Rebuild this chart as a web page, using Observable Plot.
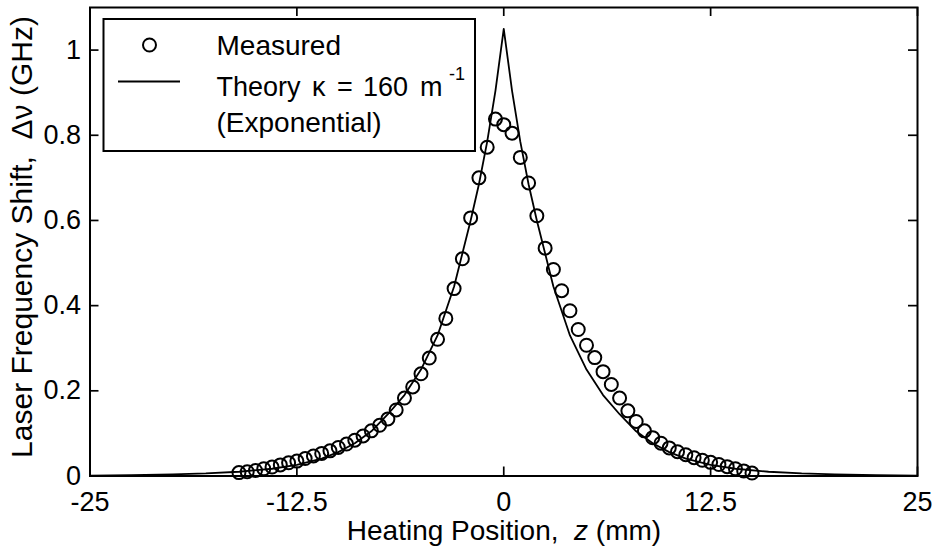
<!DOCTYPE html>
<html><head><meta charset="utf-8">
<script src="https://cdn.jsdelivr.net/npm/d3@7"></script>
<script src="https://cdn.jsdelivr.net/npm/@observablehq/plot@0.6"></script>
<style>html,body{margin:0;padding:0;background:#fff} svg{display:block}</style>
</head><body><div id="chart"></div>
<script>
// Measured points (z in mm, frequency shift in GHz)
const measuredZ = [-16,-15.5,-15,-14.5,-14,-13.5,-13,-12.5,-12,-11.5,-11,-10.5,-10,-9.5,-9,-8.5,-8,-7.5,-7,-6.5,-6,-5.5,-5,-4.5,-4,-3.5,-3,-2.5,-2,-1.5,-1,-0.5,0,
  0.5,1,1.5,2,2.5,3,3.5,4,4.5,5,5.5,6,6.5,7,7.5,8,8.5,9,9.5,10,10.5,11,11.5,12,12.5,13,13.5,14,14.5,15];
const measuredShift = [0.008,0.010,0.013,0.017,0.021,0.026,0.031,0.035,0.041,0.047,0.053,0.059,0.067,0.075,0.084,0.094,0.106,0.119,0.134,0.155,0.183,0.209,0.240,0.277,0.321,0.370,0.440,0.510,0.606,0.700,0.772,0.838,0.825,
  0.805,0.748,0.688,0.611,0.535,0.485,0.435,0.388,0.344,0.307,0.278,0.245,0.215,0.183,0.153,0.128,0.106,0.090,0.077,0.066,0.057,0.050,0.043,0.037,0.032,0.027,0.022,0.017,0.012,0.007];
// Theory curve (kappa = 160 1/m, exponential)
const theoryZ = [-25,-22.5,-20,-18,-16,-14,-12.5,-11,-10,-9,-8,-7,-6,-5,-4,-3,-2,-1.5,-1,-0.5,0,0.5,1,1.5,2,3,4,5,6,7,8,9,10,11,12.5,14,16,18,20,22.5,25];
const theoryShift = [0.001,0.002,0.004,0.006,0.010,0.017,0.026,0.041,0.056,0.077,0.105,0.145,0.190,0.250,0.330,0.445,0.600,0.685,0.785,0.905,1.05,0.905,0.785,0.685,0.600,0.445,0.330,0.250,0.190,0.145,0.105,0.077,0.056,0.041,0.026,0.017,0.010,0.006,0.004,0.002,0.001];
const xTicks = [-25,-12.5,0,12.5,25];
const xTickLabels = ["-25","-12.5","0","12.5","25"];
const yTicks = [0,0.2,0.4,0.6,0.8,1];
const yTickLabels = ["0","0.2","0.4","0.6","0.8","1"];

const measured = measuredZ.map((z,i)=>({z, v: measuredShift[i]}));
const theory = theoryZ.map((z,i)=>({z, v: theoryShift[i]}));

const W = 933, H = 553;
const mT = 7, mB = 77.5, mL = 89.5, mR = 16;
const plotH = H - mT - mB, plotW = W - mL - mR;
const tickLen = 9;
const FONT = "'Liberation Sans', Arial, Helvetica, sans-serif";

const chart = Plot.plot({
  width: W, height: H,
  marginTop: mT, marginBottom: mB, marginLeft: mL, marginRight: mR,
  style: {fontFamily: FONT, fontSize: "27px", color: "black", background: "white", overflow: "visible"},
  x: {domain: [-25, 25]},
  y: {domain: [0, 1.1]},
  marks: [
    Plot.axisX({ticks: xTicks, tickSize: 0, tickPadding: 16, tickFormat: d => xTickLabels[xTicks.indexOf(d)], label: null, fontSize: 27}),
    Plot.axisY({ticks: yTicks, tickSize: 0, tickPadding: 9, tickFormat: d => yTickLabels[yTicks.indexOf(d)], label: null, fontSize: 27}),
    Plot.tickX(xTicks, {x: d => d, insetTop: plotH - tickLen, stroke: "black", strokeWidth: 1.7}),
    Plot.tickX(xTicks, {x: d => d, insetBottom: plotH - tickLen, stroke: "black", strokeWidth: 1.7}),
    Plot.tickY(yTicks, {y: d => d, insetRight: plotW - tickLen, stroke: "black", strokeWidth: 1.7}),
    Plot.tickY(yTicks, {y: d => d, insetLeft: plotW - tickLen, stroke: "black", strokeWidth: 1.7}),
    Plot.line(theory, {x: "z", y: "v", stroke: "black", strokeWidth: 1.8}),
    Plot.dot(measured, {x: "z", y: "v", r: 6.5, stroke: "black", strokeWidth: 2, fill: "none"}),
    Plot.frame({stroke: "black", strokeWidth: 2})
  ]
});
document.getElementById("chart").appendChild(chart);

const svg = d3.select(chart);
// Legend
const lg = svg.append("g").attr("font-family", FONT).attr("fill", "black").attr("text-anchor", "start");
lg.append("rect").attr("x", 103.5).attr("y", 19).attr("width", 371.5).attr("height", 132)
  .attr("fill", "white").attr("stroke", "black").attr("stroke-width", 2);
lg.append("circle").attr("cx", 149.5).attr("cy", 45).attr("r", 6.5)
  .attr("fill", "none").attr("stroke", "black").attr("stroke-width", 2);
lg.append("line").attr("x1", 118).attr("x2", 180).attr("y1", 81.5).attr("y2", 81.5)
  .attr("stroke", "black").attr("stroke-width", 1.8);
lg.append("text").attr("x", 216.5).attr("y", 54.5).attr("font-size", 28).text("Measured");
const t2 = lg.append("text").attr("y", 96).attr("font-size", 27);
t2.append("tspan").attr("x", 216.5).text("Theory");
t2.append("tspan").attr("x", 312).text("κ");
t2.append("tspan").attr("x", 337).text("=");
t2.append("tspan").attr("x", 363).text("160");
t2.append("tspan").attr("x", 420).text("m");
t2.append("tspan").attr("x", 449).attr("y", 80).attr("font-size", 18).text("-1");
lg.append("text").attr("x", 216.5).attr("y", 131.5).attr("font-size", 28).text("(Exponential)");

// Axis titles
svg.append("text").attr("font-family", FONT).attr("font-size", 30).attr("fill", "black")
  .attr("text-anchor", "middle").style("white-space", "pre")
  .attr("transform", "translate(32,237) rotate(-90)")
  .text("Laser Frequency Shift,  Δν (GHz)");
const xt = svg.append("text").attr("font-family", FONT).attr("font-size", 28).attr("fill", "black")
  .attr("text-anchor", "middle").style("white-space", "pre").attr("x", 504).attr("y", 540);
xt.append("tspan").text("Heating Position,  ");
xt.append("tspan").attr("font-style", "italic").text("z");
xt.append("tspan").text(" (mm)");
</script>
</body></html>
